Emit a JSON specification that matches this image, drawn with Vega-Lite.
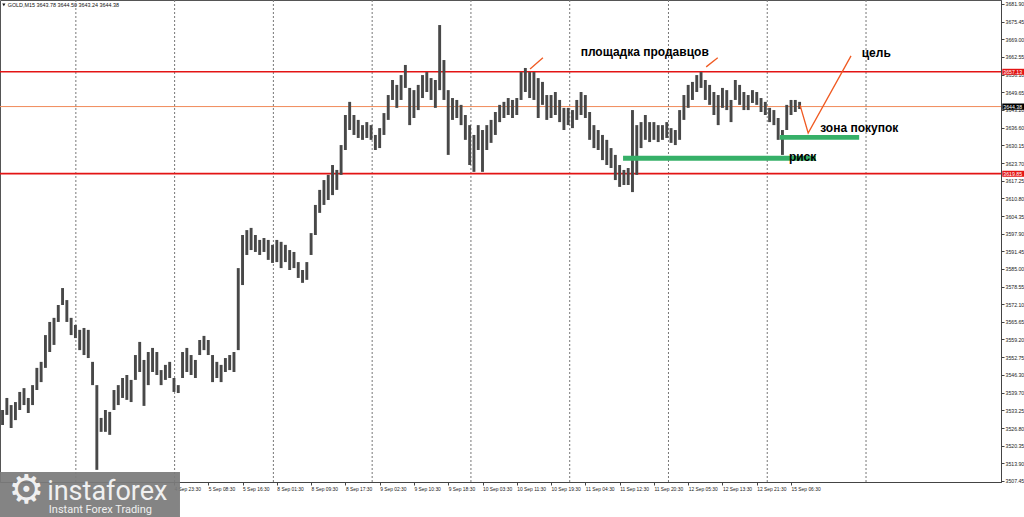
{
  "$schema": "https://vega.github.io/schema/vega-lite/v6.json",
  "width": 1001,
  "height": 482,
  "autosize": {"type": "none"},
  "padding": {"left": 0, "top": 0, "right": 23, "bottom": 35},
  "background": "white",
  "config": {"view": {"stroke": "#555", "strokeWidth": 1}, "font": "Liberation Sans", "axis": {"labelOverlap": false, "labelBound": false, "labelFlush": false}},
  "datasets": {
    "bars": [
      {"t":0,"p":3533.4,"p2":3527.9},{"t":1,"p":3537.8,"p2":3531.6},{"t":2,"p":3535.2,"p2":3526.8},{"t":3,"p":3536.3,"p2":3529.7},{"t":4,"p":3540.0,"p2":3533.4},{"t":5,"p":3541.4,"p2":3535.2},{"t":6,"p":3537.8,"p2":3532.3},{"t":7,"p":3542.5,"p2":3535.2},{"t":8,"p":3548.8,"p2":3540.7},{"t":9,"p":3551.0,"p2":3543.6},
      {"t":10,"p":3560.8,"p2":3548.8},{"t":11,"p":3565.6,"p2":3554.6},{"t":12,"p":3567.1,"p2":3557.2},{"t":13,"p":3571.8,"p2":3565.6},{"t":14,"p":3578.0,"p2":3571.8},{"t":15,"p":3573.6,"p2":3565.6},{"t":16,"p":3567.1,"p2":3560.8},{"t":17,"p":3564.5,"p2":3559.7},{"t":18,"p":3562.7,"p2":3555.3},{"t":19,"p":3563.4,"p2":3553.5},
      {"t":20,"p":3562.7,"p2":3552.4},{"t":21,"p":3551.0,"p2":3542.5},{"t":22,"p":3542.5,"p2":3511.5},{"t":23,"p":3530.5,"p2":3525.4},{"t":24,"p":3533.4,"p2":3525.4},{"t":25,"p":3532.7,"p2":3524.3},{"t":26,"p":3540.7,"p2":3533.4},{"t":27,"p":3542.5,"p2":3535.2},{"t":28,"p":3545.1,"p2":3537.8},{"t":29,"p":3546.2,"p2":3537.1},
      {"t":30,"p":3544.4,"p2":3536.3},{"t":31,"p":3553.5,"p2":3544.4},{"t":32,"p":3558.3,"p2":3547.3},{"t":33,"p":3551.7,"p2":3534.9},{"t":34,"p":3554.6,"p2":3542.5},{"t":35,"p":3556.1,"p2":3547.3},{"t":36,"p":3554.6,"p2":3546.2},{"t":37,"p":3548.0,"p2":3542.5},{"t":38,"p":3549.9,"p2":3544.4},{"t":39,"p":3551.0,"p2":3545.1},
      {"t":40,"p":3545.1,"p2":3540.0},{"t":41,"p":3542.5,"p2":3539.6},{"t":42,"p":3554.6,"p2":3545.1},{"t":43,"p":3556.1,"p2":3547.3},{"t":44,"p":3553.5,"p2":3546.2},{"t":45,"p":3551.7,"p2":3545.1},{"t":46,"p":3559.0,"p2":3553.5},{"t":47,"p":3560.5,"p2":3555.3},{"t":48,"p":3559.0,"p2":3553.5},{"t":49,"p":3553.5,"p2":3543.6},
      {"t":50,"p":3551.0,"p2":3545.1},{"t":51,"p":3549.9,"p2":3543.6},{"t":52,"p":3552.4,"p2":3547.3},{"t":53,"p":3553.5,"p2":3548.0},{"t":54,"p":3554.6,"p2":3547.3},{"t":55,"p":3585.3,"p2":3555.3},{"t":56,"p":3597.4,"p2":3579.1},{"t":57,"p":3599.2,"p2":3590.1},{"t":58,"p":3600.0,"p2":3591.9},{"t":59,"p":3597.4,"p2":3591.2},
      {"t":60,"p":3595.6,"p2":3590.1},{"t":61,"p":3596.3,"p2":3591.2},{"t":62,"p":3595.6,"p2":3588.3},{"t":63,"p":3593.8,"p2":3587.2},{"t":64,"p":3595.6,"p2":3587.5},{"t":65,"p":3594.9,"p2":3585.3},{"t":66,"p":3593.8,"p2":3587.5},{"t":67,"p":3591.9,"p2":3584.6},{"t":68,"p":3591.2,"p2":3585.3},{"t":69,"p":3587.5,"p2":3581.7},
      {"t":70,"p":3584.6,"p2":3579.9},{"t":71,"p":3587.5,"p2":3581.0},{"t":72,"p":3598.1,"p2":3590.1},{"t":73,"p":3608.4,"p2":3597.4},{"t":74,"p":3613.9,"p2":3605.5},{"t":75,"p":3617.5,"p2":3608.4},{"t":76,"p":3619.4,"p2":3610.2},{"t":77,"p":3623.0,"p2":3612.0},{"t":78,"p":3621.2,"p2":3613.9},{"t":79,"p":3630.3,"p2":3619.4},
      {"t":80,"p":3641.3,"p2":3628.5},{"t":81,"p":3646.1,"p2":3635.8},{"t":82,"p":3641.3,"p2":3634.0},{"t":83,"p":3639.5,"p2":3632.9},{"t":84,"p":3637.6,"p2":3632.2},{"t":85,"p":3638.7,"p2":3632.9},{"t":86,"p":3637.6,"p2":3632.2},{"t":87,"p":3634.0,"p2":3628.5},{"t":88,"p":3636.5,"p2":3629.2},{"t":89,"p":3642.0,"p2":3634.0},
      {"t":90,"p":3648.6,"p2":3639.5},{"t":91,"p":3654.1,"p2":3646.8},{"t":92,"p":3652.3,"p2":3643.9},{"t":93,"p":3655.9,"p2":3646.8},{"t":94,"p":3659.6,"p2":3651.2},{"t":95,"p":3651.2,"p2":3637.6},{"t":96,"p":3650.4,"p2":3640.2},{"t":97,"p":3652.3,"p2":3643.1},{"t":98,"p":3655.9,"p2":3647.5},{"t":99,"p":3657.0,"p2":3649.7},
      {"t":100,"p":3654.8,"p2":3646.8},{"t":101,"p":3654.1,"p2":3643.9},{"t":102,"p":3674.2,"p2":3650.4},{"t":103,"p":3661.4,"p2":3646.8},{"t":104,"p":3650.4,"p2":3626.7},{"t":105,"p":3647.5,"p2":3639.5},{"t":106,"p":3646.8,"p2":3640.2},{"t":107,"p":3645.0,"p2":3637.6},{"t":108,"p":3641.3,"p2":3632.2},{"t":109,"p":3637.6,"p2":3623.0},
      {"t":110,"p":3634.0,"p2":3620.5},{"t":111,"p":3637.6,"p2":3628.5},{"t":112,"p":3635.8,"p2":3620.5},{"t":113,"p":3637.6,"p2":3628.5},{"t":114,"p":3639.5,"p2":3631.1},{"t":115,"p":3642.4,"p2":3634.0},{"t":116,"p":3645.0,"p2":3638.7},{"t":117,"p":3646.1,"p2":3640.2},{"t":118,"p":3647.5,"p2":3641.3},{"t":119,"p":3646.8,"p2":3640.2},
      {"t":120,"p":3647.5,"p2":3641.3},{"t":121,"p":3657.0,"p2":3646.8},{"t":122,"p":3658.5,"p2":3649.7},{"t":123,"p":3657.0,"p2":3647.5},{"t":124,"p":3657.0,"p2":3646.8},{"t":125,"p":3654.8,"p2":3640.2},{"t":126,"p":3653.4,"p2":3645.0},{"t":127,"p":3648.6,"p2":3639.5},{"t":128,"p":3648.6,"p2":3640.2},{"t":129,"p":3649.7,"p2":3641.3},
      {"t":130,"p":3646.8,"p2":3638.7},{"t":131,"p":3643.9,"p2":3635.8},{"t":132,"p":3643.9,"p2":3637.6},{"t":133,"p":3643.1,"p2":3636.5},{"t":134,"p":3646.8,"p2":3639.5},{"t":135,"p":3649.7,"p2":3641.3},{"t":136,"p":3648.6,"p2":3640.2},{"t":137,"p":3642.4,"p2":3632.2},{"t":138,"p":3637.6,"p2":3629.2},{"t":139,"p":3635.8,"p2":3628.5},
      {"t":140,"p":3634.0,"p2":3624.8},{"t":141,"p":3632.2,"p2":3623.0},{"t":142,"p":3629.2,"p2":3621.9},{"t":143,"p":3626.7,"p2":3617.5},{"t":144,"p":3623.0,"p2":3615.0},{"t":145,"p":3621.2,"p2":3615.7},{"t":146,"p":3621.9,"p2":3615.7},{"t":147,"p":3643.1,"p2":3613.1},{"t":148,"p":3637.6,"p2":3619.4},{"t":149,"p":3638.7,"p2":3629.2},
      {"t":150,"p":3641.3,"p2":3632.2},{"t":151,"p":3638.7,"p2":3631.4},{"t":152,"p":3638.7,"p2":3632.2},{"t":153,"p":3637.6,"p2":3631.4},{"t":154,"p":3637.6,"p2":3632.2},{"t":155,"p":3638.7,"p2":3632.9},{"t":156,"p":3636.5,"p2":3631.1},{"t":157,"p":3635.8,"p2":3630.3},{"t":158,"p":3643.1,"p2":3632.2},{"t":159,"p":3648.6,"p2":3639.5},
      {"t":160,"p":3652.3,"p2":3643.9},{"t":161,"p":3653.4,"p2":3646.8},{"t":162,"p":3655.9,"p2":3649.7},{"t":163,"p":3657.0,"p2":3651.2},{"t":164,"p":3654.1,"p2":3646.8},{"t":165,"p":3652.3,"p2":3645.0},{"t":166,"p":3649.7,"p2":3641.3},{"t":167,"p":3648.6,"p2":3637.6},{"t":168,"p":3651.2,"p2":3643.9},{"t":169,"p":3650.4,"p2":3643.1},
      {"t":170,"p":3646.8,"p2":3638.7},{"t":171,"p":3654.1,"p2":3646.8},{"t":172,"p":3652.3,"p2":3645.0},{"t":173,"p":3649.7,"p2":3643.1},{"t":174,"p":3648.6,"p2":3643.1},{"t":175,"p":3650.4,"p2":3645.7},{"t":176,"p":3649.7,"p2":3645.0},{"t":177,"p":3647.5,"p2":3642.4},{"t":178,"p":3646.1,"p2":3641.3},{"t":179,"p":3643.9,"p2":3638.7},
      {"t":180,"p":3643.1,"p2":3637.6},{"t":181,"p":3640.2,"p2":3632.2},{"t":182,"p":3635.8,"p2":3626.7},{"t":183,"p":3645.0,"p2":3635.8},{"t":184,"p":3646.8,"p2":3641.3},{"t":185,"p":3646.8,"p2":3642.4},{"t":186,"p":3646.1,"p2":3643.5}
    ],
    "grid": [{"t":17.1},{"t":40.15},{"t":63.2},{"t":86.25},{"t":109.3},{"t":132.35},{"t":155.4},{"t":178.45},{"t":201.5}],
    "levels": [{"p":3657.13},{"p":3619.85}],
    "priceline": [{"p":3644.38}],
    "zones": [
      {"t":181.4,"t2":199.9,"p":3634.0,"p2":3632.2},
      {"t":144.8,"t2":189.8,"p":3626.4,"p2":3624.6}
    ],
    "orange": [
      {"g":1,"o":1,"t":123.1,"p":3658.1},{"g":1,"o":2,"t":126.1,"p":3662.2},
      {"g":2,"o":1,"t":164.2,"p":3658.9},{"g":2,"o":2,"t":166.9,"p":3662.2},
      {"g":3,"o":1,"t":186.1,"p":3644.9},{"g":3,"o":2,"t":188.0,"p":3634.7},{"g":3,"o":3,"t":198.0,"p":3662.9}
    ],
    "notes": [
      {"t":134.9,"p":3663.0,"label":"площадка продавцов"},
      {"t":200.5,"p":3662.5,"label":"цель"},
      {"t":190.8,"p":3635.2,"label":"зона покупок"},
      {"t":183.5,"p":3624.5,"label":"риск"}
    ],
    "tags": [
      {"t":233.3,"t2":240,"p":3658.2,"p2":3656.0,"label":"3657.13","bg":"red"},
      {"t":233.3,"t2":240,"p":3620.9,"p2":3618.7,"label":"3619.85","bg":"red"},
      {"t":233.3,"t2":240,"p":3645.5,"p2":3643.2,"label":"3644.38","bg":"black"}
    ],
    "header": [{"t":1.2,"p":3681.6,"label":"GOLD,M15  3643.78 3644.50 3643.24 3644.38"}],
    "marker": [{"t":0.3,"p":3681.6}],
    "logo": [{"t":-0.6,"t2":41.4,"p":3510.7,"p2":3494.0}],
    "gear": [{"t":1.4,"p":3503.9,"label":"⚙"}],
    "logotext": [
      {"t":10.4,"p":3500.5,"label":"instaforex","size":27,"weight":300},
      {"t":10.8,"p":3495.6,"label":"Instant Forex Trading","size":11,"weight":400}
    ]
  },
  "layer": [
    {
      "data": {"name": "grid"},
      "mark": {"type": "rule", "color": "#777", "strokeDash": [2, 2], "strokeWidth": 1},
      "encoding": {
        "x": {
          "field": "t", "type": "quantitative",
          "scale": {"domain": [-0.6, 233], "nice": false, "zero": false},
          "axis": {
            "orient": "bottom", "title": null, "grid": false, "tickCount": 60,
            "values": [40,48,56,64,72,80,88,96,104,112,120,128,136,144,152,160,168,176,184],
            "labelExpr": "['4 Sep 23:30','5 Sep 08:30','5 Sep 16:30','8 Sep 01:30','8 Sep 09:30','8 Sep 17:30','9 Sep 02:30','9 Sep 10:30','9 Sep 18:30','10 Sep 03:30','10 Sep 11:30','10 Sep 19:30','11 Sep 04:30','11 Sep 12:30','11 Sep 20:30','12 Sep 05:30','12 Sep 13:30','12 Sep 21:30','15 Sep 06:30'][round(datum.value/8) - 5]",
            "labelAlign": "left", "labelFontSize": 4.9, "labelColor": "#222", "labelPadding": 1,
            "labelOverlap": false, "labelFlush": false, "labelBound": false,
            "tickSize": 3, "tickColor": "#444", "domainColor": "#444"
          }
        }
      }
    },
    {
      "data": {"name": "levels"},
      "mark": {"type": "rule", "color": "#e31414", "strokeWidth": 1.6},
      "encoding": {
        "y": {
          "field": "p", "type": "quantitative",
          "scale": {"domain": [3507.06, 3683.36], "nice": false, "zero": false},
          "axis": {
            "orient": "right", "title": null, "grid": false, "tickCount": 60,
            "values": [3681.90,3675.45,3669.00,3662.55,3656.10,3649.65,3643.20,3636.60,3630.15,3623.70,3617.25,3610.80,3604.35,3597.90,3591.45,3585.00,3578.55,3572.10,3565.65,3559.20,3552.75,3546.30,3539.70,3533.25,3526.80,3520.35,3513.90,3507.45],
            "labelExpr": "format(datum.value, '.2f')",
            "labelFontSize": 5.2, "labelColor": "#222", "labelPadding": 1,
            "labelOverlap": false, "labelFlush": false, "labelBound": false,
            "tickSize": 3, "tickColor": "#444", "domainColor": "#444"
          }
        }
      }
    },
    {
      "data": {"name": "priceline"},
      "mark": {"type": "rule", "color": "#f08a5a", "strokeWidth": 1},
      "encoding": {
        "y": {"field": "p", "type": "quantitative", "scale": {"domain": [3507.06, 3683.36], "nice": false, "zero": false}}
      }
    },
    {
      "data": {"name": "bars"},
      "mark": {"type": "rule", "color": "#484848", "strokeWidth": 2.9},
      "encoding": {
        "x": {"field": "t", "type": "quantitative", "scale": {"domain": [-0.6, 233], "nice": false, "zero": false}},
        "y": {"field": "p", "type": "quantitative", "scale": {"domain": [3507.06, 3683.36], "nice": false, "zero": false}},
        "y2": {"field": "p2"}
      }
    },
    {
      "data": {"name": "zones"},
      "mark": {"type": "rect", "color": "#36b068"},
      "encoding": {
        "x": {"field": "t", "type": "quantitative", "scale": {"domain": [-0.6, 233], "nice": false, "zero": false}},
        "x2": {"field": "t2"},
        "y": {"field": "p", "type": "quantitative", "scale": {"domain": [3507.06, 3683.36], "nice": false, "zero": false}},
        "y2": {"field": "p2"}
      }
    },
    {
      "data": {"name": "orange"},
      "mark": {"type": "line", "color": "#f05a22", "strokeWidth": 1.3},
      "encoding": {
        "x": {"field": "t", "type": "quantitative", "scale": {"domain": [-0.6, 233], "nice": false, "zero": false}},
        "y": {"field": "p", "type": "quantitative", "scale": {"domain": [3507.06, 3683.36], "nice": false, "zero": false}},
        "detail": {"field": "g", "type": "nominal"},
        "order": {"field": "o", "type": "quantitative"}
      }
    },
    {
      "data": {"name": "notes"},
      "mark": {"type": "text", "align": "left", "baseline": "alphabetic", "fontSize": 12, "fontWeight": "bold", "font": "Liberation Sans", "color": "#000"},
      "encoding": {
        "x": {"field": "t", "type": "quantitative", "scale": {"domain": [-0.6, 233], "nice": false, "zero": false}},
        "y": {"field": "p", "type": "quantitative", "scale": {"domain": [3507.06, 3683.36], "nice": false, "zero": false}},
        "text": {"field": "label"}
      }
    },
    {
      "data": {"name": "tags"},
      "mark": {"type": "rect"},
      "encoding": {
        "x": {"field": "t", "type": "quantitative", "scale": {"domain": [-0.6, 233], "nice": false, "zero": false}},
        "x2": {"field": "t2"},
        "y": {"field": "p", "type": "quantitative", "scale": {"domain": [3507.06, 3683.36], "nice": false, "zero": false}},
        "y2": {"field": "p2"},
        "color": {"field": "bg", "type": "nominal", "scale": {"domain": ["red", "black"], "range": ["#e31414", "#000000"]}, "legend": null}
      }
    },
    {
      "data": {"name": "tags"},
      "transform": [{"calculate": "(datum.p + datum.p2) / 2", "as": "pm"}],
      "mark": {"type": "text", "align": "left", "baseline": "middle", "fontSize": 5.2, "color": "white", "dx": 1},
      "encoding": {
        "x": {"field": "t", "type": "quantitative", "scale": {"domain": [-0.6, 233], "nice": false, "zero": false}},
        "y": {"field": "pm", "type": "quantitative", "scale": {"domain": [3507.06, 3683.36], "nice": false, "zero": false}},
        "text": {"field": "label"}
      }
    },
    {
      "data": {"name": "header"},
      "mark": {"type": "text", "align": "left", "baseline": "middle", "fontSize": 5.4, "color": "#111"},
      "encoding": {
        "x": {"field": "t", "type": "quantitative", "scale": {"domain": [-0.6, 233], "nice": false, "zero": false}},
        "y": {"field": "p", "type": "quantitative", "scale": {"domain": [3507.06, 3683.36], "nice": false, "zero": false}},
        "text": {"field": "label"}
      }
    },
    {
      "data": {"name": "marker"},
      "mark": {"type": "point", "shape": "triangle-down", "filled": true, "size": 10, "color": "#111", "opacity": 1},
      "encoding": {
        "x": {"field": "t", "type": "quantitative", "scale": {"domain": [-0.6, 233], "nice": false, "zero": false}},
        "y": {"field": "p", "type": "quantitative", "scale": {"domain": [3507.06, 3683.36], "nice": false, "zero": false}}
      }
    },
    {
      "data": {"name": "logo"},
      "mark": {"type": "rect", "color": "#7b7b7b", "opacity": 0.93},
      "encoding": {
        "x": {"field": "t", "type": "quantitative", "scale": {"domain": [-0.6, 233], "nice": false, "zero": false}},
        "x2": {"field": "t2"},
        "y": {"field": "p", "type": "quantitative", "scale": {"domain": [3507.06, 3683.36], "nice": false, "zero": false}},
        "y2": {"field": "p2"}
      }
    },
    {
      "data": {"name": "gear"},
      "mark": {"type": "text", "align": "left", "baseline": "middle", "font": "DejaVu Sans", "fontSize": 40, "color": "#f0f0f0"},
      "encoding": {
        "x": {"field": "t", "type": "quantitative", "scale": {"domain": [-0.6, 233], "nice": false, "zero": false}},
        "y": {"field": "p", "type": "quantitative", "scale": {"domain": [3507.06, 3683.36], "nice": false, "zero": false}},
        "text": {"field": "label"}
      }
    },
    {
      "data": {"name": "logotext"},
      "mark": {"type": "text", "align": "left", "baseline": "alphabetic", "font": "Roboto", "color": "#f0f0f0"},
      "encoding": {
        "x": {"field": "t", "type": "quantitative", "scale": {"domain": [-0.6, 233], "nice": false, "zero": false}},
        "y": {"field": "p", "type": "quantitative", "scale": {"domain": [3507.06, 3683.36], "nice": false, "zero": false}},
        "text": {"field": "label"},
        "size": {"field": "size", "type": "quantitative", "scale": null},
        "fontWeight": {"field": "weight", "type": "quantitative", "scale": null}
      }
    }
  ]
}
